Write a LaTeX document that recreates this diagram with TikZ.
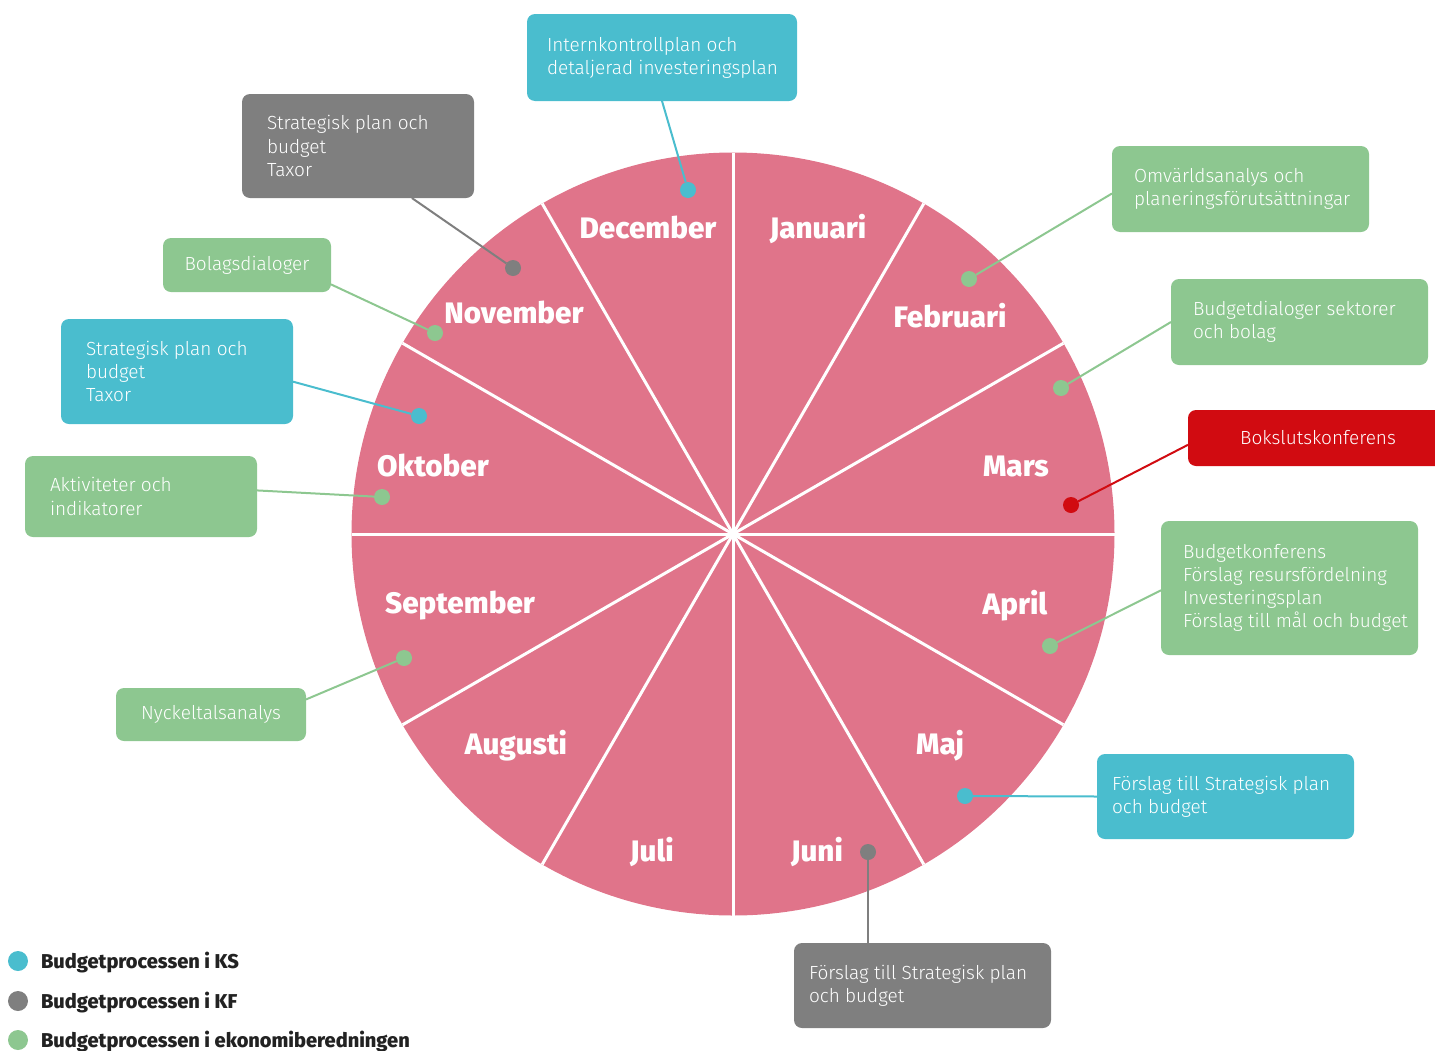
\documentclass[tikz,border=0pt]{standalone}
\usepackage{fontspec}
\setmainfont{Fira Sans}
\newfontfamily\lightfont{Fira Sans Light}
\newfontfamily\heavyfont{Fira Sans ExtraBold}
\newcommand*{\cardfont}{\lightfont\fontsize{9.5}{11.6}\selectfont}
\newcommand*{\monthfont}{\heavyfont\fontsize{14.8}{16}\selectfont}
\newcommand*{\legendfont}{\heavyfont\fontsize{10}{11}\selectfont}
\definecolor{wheel}{RGB}{224,116,138}
\definecolor{ks}{RGB}{74,189,206}
\definecolor{kf}{RGB}{127,127,127}
\definecolor{ek}{RGB}{141,199,144}
\definecolor{bokslut}{RGB}{209,11,17}
\definecolor{ink}{RGB}{34,34,34}
\usetikzlibrary{positioning}
\tikzstyle{base}=[inner sep=0pt, outer sep=0pt]
\tikzstyle{card}=[rounded corners=4pt, anchor=north west]
\tikzstyle{cardtext}=[anchor=west, align=left, text=white, font=\cardfont]
\tikzstyle{month}=[anchor=base, text=white, font=\monthfont]
\tikzstyle{dot}=[circle, minimum size=8pt]
\tikzstyle{legdot}=[circle, minimum size=10pt]
\tikzstyle{lead}=[line width=1pt]

\begin{document}
\begin{tikzpicture}[base, x=0.5pt, y=-0.5pt]
    \path [use as bounding box] (0,0) rectangle (1435,1050);
    \coordinate (hub) at (733,534);
    \fill [wheel] (hub) circle [radius=381.5];
    \foreach \a in {0,30,...,330}
        \draw [white, line width=1.5pt] (hub) -- ++(\a:381.5);
    \foreach \m/\x/\y in {December/648/238, Januari/818/238, Februari/950/327,
        Mars/1016/476, April/1015/614, Maj/940/754, Juni/817/861, Juli/652/861,
        Augusti/516/754, September/460/613, Oktober/433/476, November/514/323}
        \node [month] (\m) at (\x,\y) {\m};

    \node [card, fill=ks, minimum width=135pt, minimum height=43.5pt] (kInt) at (527,14) {};
    \node [cardtext] (kInt-t) at ([xshift=10pt]kInt.west) {Internkontrollplan och\\detaljerad investeringsplan};
    \node [card, fill=kf, minimum width=116pt, minimum height=52pt] (kfNov) at (242,94) {};
    \node [cardtext] (kfNov-t) at ([xshift=12.5pt]kfNov.west) {Strategisk plan och\\budget\\Taxor};
    \node [card, fill=ek, minimum width=84pt, minimum height=27pt, text=white, font=\cardfont] (eBolag) at (163,238) {Bolagsdialoger};
    \node [card, fill=ks, minimum width=116pt, minimum height=52.5pt] (ksOkt) at (61,319) {};
    \node [cardtext] (ksOkt-t) at ([xshift=12.5pt]ksOkt.west) {Strategisk plan och\\budget\\Taxor};
    \node [card, fill=ek, minimum width=116pt, minimum height=40.5pt] (eAkt) at (25,456) {};
    \node [cardtext] (eAkt-t) at ([xshift=12.5pt]eAkt.west) {Aktiviteter och\\indikatorer};
    \node [card, fill=ek, minimum width=95pt, minimum height=26.5pt, text=white, font=\cardfont] (eNyckel) at (116,688) {Nyckeltalsanalys};
    \node [card, fill=ek, minimum width=128.5pt, minimum height=43pt] (eOmv) at (1112,146) {};
    \node [cardtext] (eOmv-t) at ([xshift=11pt]eOmv.west) {Omvärldsanalys och\\planeringsförutsättningar};
    \node [card, fill=ek, minimum width=128.5pt, minimum height=43pt] (eBudg) at (1171,279) {};
    \node [cardtext] (eBudg-t) at ([xshift=11pt]eBudg.west) {Budgetdialoger sektorer\\och bolag};
    \node [card, fill=bokslut, minimum width=130pt, minimum height=28pt, text=white, font=\cardfont] (bokslut) at (1188,410) {Bokslutskonferens};
    \node [card, fill=ek, minimum width=128.5pt, minimum height=67pt] (eKonf) at (1161,521) {};
    \node [cardtext] (eKonf-t) at ([xshift=11pt]eKonf.west) {Budgetkonferens\\Förslag resursfördelning\\Investeringsplan\\Förslag till mål och budget};
    \node [card, fill=ks, minimum width=128.5pt, minimum height=42.5pt] (ksMaj) at (1097,754) {};
    \node [cardtext] (ksMaj-t) at ([xshift=7.5pt]ksMaj.west) {Förslag till Strategisk plan\\och budget};
    \node [card, fill=kf, minimum width=128.5pt, minimum height=42.5pt] (kfJuni) at (794,943) {};
    \node [cardtext] (kfJuni-t) at ([xshift=7.5pt]kfJuni.west) {Förslag till Strategisk plan\\och budget};

    \node [dot, fill=ks] (dDec) at (688,190) {};
    \node [dot, fill=kf] (dNov) at (513,268) {};
    \node [dot, fill=ek] (dNovE) at (435,333) {};
    \node [dot, fill=ks] (dOkt) at (419,416) {};
    \node [dot, fill=ek] (dOktE) at (382,497) {};
    \node [dot, fill=ek] (dSep) at (404,658) {};
    \node [dot, fill=ek] (dFeb) at (969,279) {};
    \node [dot, fill=ek] (dMar) at (1061,388) {};
    \node [dot, fill=bokslut] (dMarR) at (1071,505) {};
    \node [dot, fill=ek] (dApr) at (1050,646) {};
    \node [dot, fill=ks] (dMaj) at (965,796) {};
    \node [dot, fill=kf] (dJuni) at (868,852) {};

    \draw [lead, ks] (kInt.south) -- (dDec);
    \draw [lead, kf] (kfNov.-44) -- (dNov);
    \draw [lead, ek] (eBolag.-13) -- (dNovE);
    \draw [lead, ks] (ksOkt.-5) -- (dOkt);
    \draw [lead, ek] (eAkt.3) -- (dOktE);
    \draw [lead, ek] (eNyckel.9) -- (dSep);
    \draw [lead, ek] (eOmv.182) -- (dFeb);
    \draw [lead, ek] (eBudg.west) -- (dMar);
    \draw [lead, bokslut] (bokslut.183) -- (dMarR);
    \draw [lead, ek] (eKonf.181) -- (dApr);
    \draw [lead, ks] (ksMaj.west) -- (dMaj);
    \draw [lead, kf] (dJuni) -- (dJuni |- kfJuni.north);

    \node [legdot, fill=ks] (legKS) at (18,961) {};
    \node [legdot, fill=kf] (legKF) at (18,1001) {};
    \node [legdot, fill=ek] (legEk) at (18,1040) {};
    \node [anchor=base west, text=ink, font=\legendfont] (legKS-t) at (41,968) {Budgetprocessen i KS};
    \node [anchor=base west, text=ink, font=\legendfont] (legKF-t) at (41,1008) {Budgetprocessen i KF};
    \node [anchor=base west, text=ink, font=\legendfont] (legEk-t) at (41,1047) {Budgetprocessen i ekonomiberedningen};
\end{tikzpicture}
\end{document}
